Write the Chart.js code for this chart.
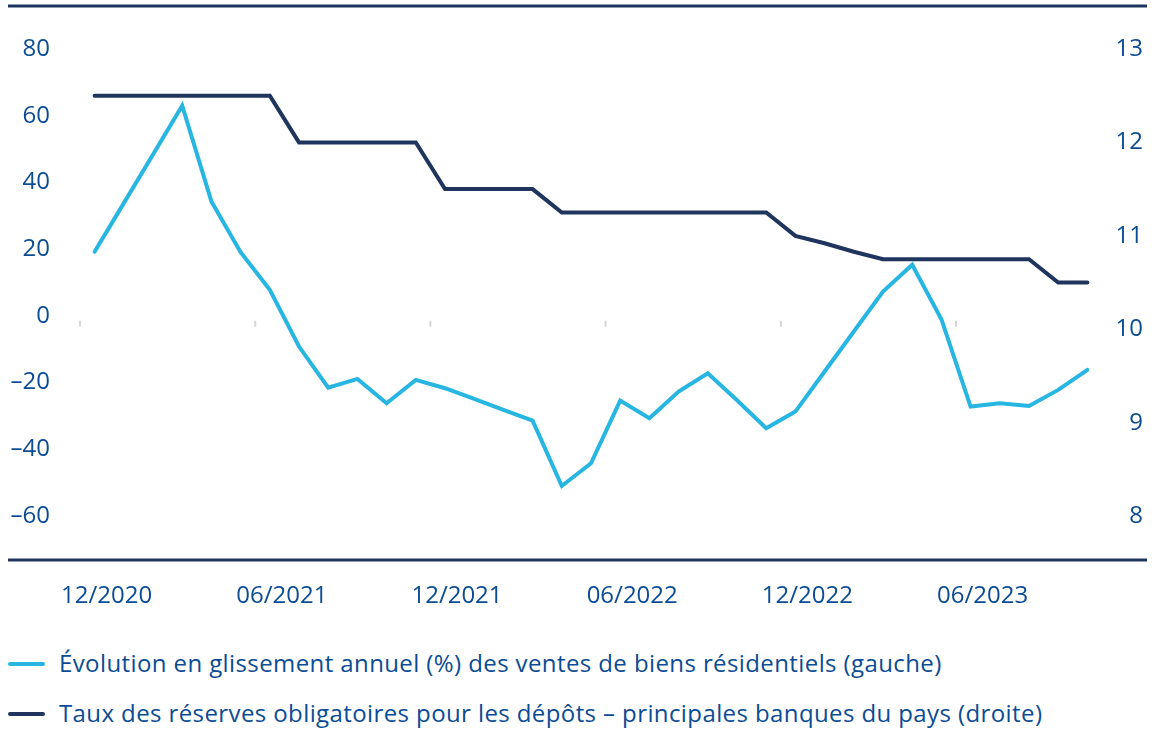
<!DOCTYPE html>
<html lang="fr">
<head>
<meta charset="utf-8">
<title>Ventes résidentielles et réserves obligatoires</title>
<script src="https://cdn.jsdelivr.net/npm/chart.js"></script>
<style>
  body { margin: 0; background: #fff; }
  #wrap { position: relative; width: 1155px; height: 731px; font-family: "Open Sans", sans-serif; color: #0b4c94; }
  #chart-box { position: absolute; left: 0; top: 0; width: 1155px; height: 620px; }
  .legend-row { position: absolute; left: 0; height: 30px; line-height: 30px; font-size: 24px; letter-spacing: 0.4px; white-space: nowrap; }
  .legend-row .swatch { position: absolute; left: 8px; top: 14px; width: 37px; height: 4px; border-radius: 2px; }
  .legend-row .txt { position: absolute; left: 59px; top: 0; }
</style>
</head>
<body>
<div id="wrap">
  <div id="chart-box"><canvas id="chart" width="1155" height="620"></canvas></div>
  <div class="legend-row" style="top:648px"><span class="swatch" style="background:#27b5e2"></span><span class="txt">Évolution en glissement annuel (%) des ventes de biens résidentiels (gauche)</span></div>
  <div class="legend-row" style="top:698px"><span class="swatch" style="background:#1f355e"></span><span class="txt">Taux des réserves obligatoires pour les dépôts – principales banques du pays (droite)</span></div>
</div>

<script>
// months, 12/2020 -> 10/2023
const months = [
  '12/2020', '01/2021', '02/2021', '03/2021', '04/2021', '05/2021',
  '06/2021', '07/2021', '08/2021', '09/2021', '10/2021', '11/2021',
  '12/2021', '01/2022', '02/2022', '03/2022', '04/2022', '05/2022',
  '06/2022', '07/2022', '08/2022', '09/2022', '10/2022', '11/2022',
  '12/2022', '01/2023', '02/2023', '03/2023', '04/2023', '05/2023',
  '06/2023', '07/2023', '08/2023', '09/2023', '10/2023'
];

// y/y change of residential sales, % (left axis)
const salesYoY = [
  19.2, 33.8, 48.4, 63.0, 34.3, 19.1,
  7.8, -9.2, -21.5, -18.9, -26.2, -19.2,
  -21.7, -24.9, -28.2, -31.4, -51.0, -44.2,
  -25.4, -30.7, -22.7, -17.2, -25.3, -33.7,
  -28.7, -16.7, -4.7, 7.3, 15.3, -1.0,
  -27.2, -26.2, -27.0, -22.2, -16.2
];

// reserve requirement ratio, % (right axis)
const reserveRatio = [
  12.5, 12.5, 12.5, 12.5, 12.5, 12.5,
  12.5, 12, 12, 12, 12, 12,
  11.5, 11.5, 11.5, 11.5, 11.25, 11.25,
  11.25, 11.25, 11.25, 11.25, 11.25, 11.25,
  11, 10.92, 10.83, 10.75, 10.75, 10.75,
  10.75, 10.75, 10.75, 10.5, 10.5
];

const leftTicks = [-60, -40, -20, 0, 20, 40, 60, 80];
const rightTicks = [8, 9, 10, 11, 12, 13];

const textColor = '#0b4c94';
const navy = '#1f355e';
const sky = '#27b5e2';
const tickFont = { family: 'Open Sans', size: 24 };

function minus(v) {
  return v < 0 ? '\u2013' + Math.abs(v) : String(v);
}

// frame lines top/bottom + little gray marks on the zero line
const framePlugin = {
  id: 'frame',
  afterDraw(chart) {
    const ctx = chart.ctx;
    const area = chart.chartArea;
    const x = chart.scales.x;
    const y = chart.scales.y;
    ctx.save();
    ctx.strokeStyle = navy;
    ctx.lineWidth = 3;
    ctx.beginPath();
    ctx.moveTo(8, area.top);
    ctx.lineTo(chart.width - 8, area.top);
    ctx.moveTo(8, area.bottom);
    ctx.lineTo(chart.width - 8, area.bottom);
    ctx.stroke();

    ctx.strokeStyle = '#d6d6d8';
    ctx.lineWidth = 2;
    const y0 = y.getPixelForValue(0);
    for (let i = 0; i < months.length; i += 6) {
      const px = (x.getPixelForValue(i) + x.getPixelForValue(i - 1)) / 2;
      ctx.beginPath();
      ctx.moveTo(px, y0 + 5);
      ctx.lineTo(px, y0 + 11);
      ctx.stroke();
    }
    ctx.restore();
  }
};

new Chart(document.getElementById('chart'), {
  type: 'line',
  data: {
    labels: months,
    datasets: [
      {
        label: 'Évolution en glissement annuel (%) des ventes de biens résidentiels (gauche)',
        data: salesYoY,
        yAxisID: 'y',
        borderColor: sky,
        backgroundColor: sky,
        borderWidth: 4,
        borderCapStyle: 'round',
        borderJoinStyle: 'miter',
        pointRadius: 0,
        tension: 0
      },
      {
        label: 'Taux des réserves obligatoires pour les dépôts – principales banques du pays (droite)',
        data: reserveRatio,
        yAxisID: 'y1',
        borderColor: navy,
        backgroundColor: navy,
        borderWidth: 4,
        borderCapStyle: 'round',
        borderJoinStyle: 'miter',
        pointRadius: 0,
        tension: 0
      }
    ]
  },
  options: {
    responsive: false,
    animation: false,
    layout: { padding: { top: 6, right: 12, left: 0, bottom: 0 } },
    plugins: {
      legend: { display: false },
      tooltip: { enabled: false }
    },
    scales: {
      x: {
        type: 'category',
        offset: true,
        grid: { display: false, drawTicks: false },
        border: { display: false },
        ticks: {
          autoSkip: false,
          maxRotation: 0,
          padding: 22,
          labelOffset: 12,
          color: textColor,
          font: tickFont,
          callback: function (val, idx) {
            return idx % 6 === 0 ? months[idx] : '';
          }
        },
        afterFit: function (s) {
          s.height = 60;
          s.paddingLeft = 0;
          s.paddingRight = 0;
        }
      },
      y: {
        position: 'left',
        min: -73.2,
        max: 92.9,
        grid: { display: false, drawTicks: false },
        border: { display: false },
        afterBuildTicks: function (s) {
          s.ticks = leftTicks.map(v => ({ value: v }));
        },
        ticks: {
          padding: 30,
          color: textColor,
          font: tickFont,
          callback: v => minus(v)
        },
        afterFit: function (s) {
          s.width = 80;
          s.paddingTop = 0;
          s.paddingBottom = 0;
        }
      },
      y1: {
        position: 'right',
        min: 7.53,
        max: 13.46,
        grid: { display: false, drawTicks: false },
        border: { display: false },
        afterBuildTicks: function (s) {
          s.ticks = rightTicks.map(v => ({ value: v }));
        },
        ticks: {
          crossAlign: 'far',
          padding: 17,
          color: textColor,
          font: tickFont
        },
        afterFit: function (s) {
          s.width = 41;
          s.paddingTop = 0;
          s.paddingBottom = 0;
        }
      }
    }
  },
  plugins: [framePlugin]
});
</script>
</body>
</html>
